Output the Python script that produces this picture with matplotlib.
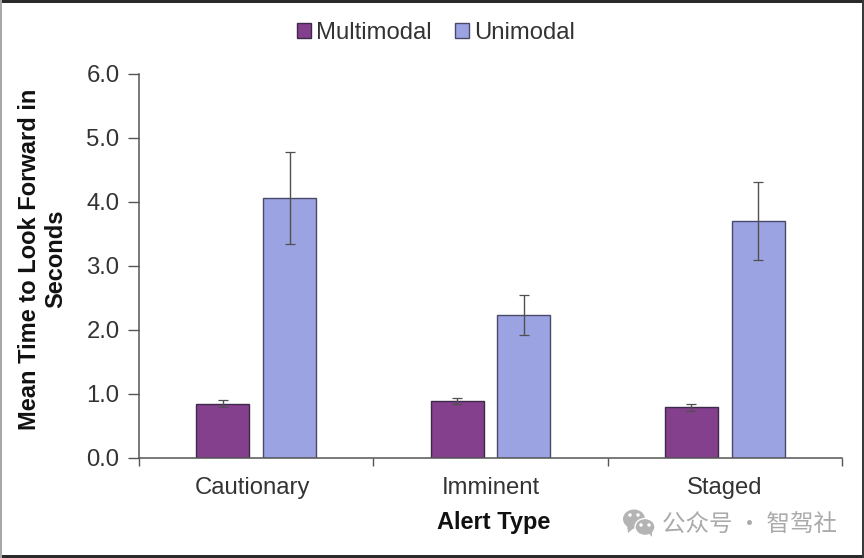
import matplotlib
matplotlib.use("Agg")
import matplotlib.pyplot as plt
import numpy as np
from matplotlib.patches import Rectangle, Ellipse, Polygon
from matplotlib.transforms import ScaledTranslation

categories = ["Cautionary", "Imminent", "Staged"]
multimodal = [0.85, 0.89, 0.79]
unimodal = [4.06, 2.23, 3.70]
multi_err = [0.06, 0.05, 0.05]
uni_err = [0.72, 0.31, 0.61]
yticks = [0, 1, 2, 3, 4, 5, 6]

plt.rcParams['font.family'] = ['Liberation Sans', 'DejaVu Sans']
W, H = 864, 558
fig = plt.figure(figsize=(W/100, H/100), dpi=100, facecolor='white')
ax = fig.add_axes([139/W, 1-458/H, (842-139)/W, (458-74)/H])

x = np.arange(len(categories))
bw = 0.2265
off = 0.1425
ekw = dict(ecolor='#505050', elinewidth=1.0, capsize=3.5, capthick=0.9)
ax.bar(x-off, multimodal, bw, color='#84408c', edgecolor='#3d2a4a', linewidth=1.0,
       yerr=multi_err, error_kw=ekw, label='Multimodal')
ax.bar(x+off, unimodal, bw, color='#9ca3e2', edgecolor='#4a4a68', linewidth=1.0,
       yerr=uni_err, error_kw=ekw, label='Unimodal')

ax.set_xlim(-0.5, 2.5)
ax.set_ylim(0, 6)
ax.set_yticks(yticks)
ax.set_yticklabels([f"{v:.1f}" for v in yticks], fontsize=17.2, color='#333333')
ax.set_xticks([-0.5, 0.5, 1.5, 2.5])
ax.set_xticklabels([])
ax.set_xticks(x, minor=True)
ax.set_xticklabels(categories, minor=True, fontsize=17.2, color='#333333')
ax.tick_params(axis='x', which='minor', length=0, pad=14)
ax.tick_params(axis='x', which='major', length=6, width=1, color='#555555', direction='out')
ax.tick_params(axis='y', length=8, width=1, color='#555555', pad=6)
first = ax.get_xticklabels(minor=True)[0]
first.set_transform(first.get_transform() + ScaledTranslation(-4/100, 0, fig.dpi_scale_trans))
for s in ('top', 'right'):
    ax.spines[s].set_visible(False)
for s in ('left', 'bottom'):
    ax.spines[s].set_color('#555555')
    ax.spines[s].set_linewidth(1.1)

fig.text(494/W, 1-522/H, "Alert Type", fontsize=17, fontweight='bold', color='#111111', ha='center', va='center')
fig.text(30/W, 1-259/H, "Mean Time to Look Forward in", fontsize=17, fontweight='bold',
         color='#111111', rotation=90, ha='center', va='center')
fig.text(56/W, 1-259/H, "Seconds", fontsize=17, fontweight='bold',
         color='#111111', rotation=90, ha='center', va='center')

leg = fig.legend(loc='center', bbox_to_anchor=(436/W, 1-33/H), ncol=2, frameon=False,
                 fontsize=17.2, handlelength=0.59, handleheight=0.6, handletextpad=0.24,
                 columnspacing=0.95, labelcolor='#333333')

# outer frame of the screenshot
fig.add_artist(Rectangle((0, 1-2.5/H), 1, 2.5/H, transform=fig.transFigure, color='#2a2a2a', lw=0))
fig.add_artist(Rectangle((0, 0), 1, 3.5/H, transform=fig.transFigure, color='#2a2a2a', lw=0))
fig.add_artist(Rectangle((0, 0), 2/W, 1, transform=fig.transFigure, color='#a8a8a8', lw=0))
fig.add_artist(Rectangle((1-2/W, 0), 2/W, 1, transform=fig.transFigure, color='#3a3a3a', lw=0))

# watermark
def px(xp, yp):
    return (xp/W, 1-yp/H)
g = '#b4b4b4'
fig.add_artist(Ellipse(px(634, 519), 22/W, 19/H, transform=fig.transFigure, color=g, lw=0))
fig.add_artist(Polygon([px(627, 525), px(628, 533), px(635, 527)], transform=fig.transFigure, color=g, lw=0))
fig.add_artist(Ellipse(px(645, 527), 20/W, 17/H, transform=fig.transFigure, facecolor=g, edgecolor='white', lw=1))
fig.add_artist(Polygon([px(648, 532), px(652, 537), px(652, 530)], transform=fig.transFigure, color=g, lw=0))
for (a, b) in [(630, 515), (638, 515), (641, 525), (649, 525)]:
    fig.add_artist(Ellipse(px(a, b), 3.5/W, 3.5/H, transform=fig.transFigure, color='white', lw=0))
fig.text(749.5/W, 1-524.5/H, "公众号 · 智驾社", fontsize=16.9, color='#aaaaaa', ha='center', va='center',
         family=['Noto Sans CJK SC', 'DejaVu Sans'])

fig.savefig("out.png", dpi=100)
